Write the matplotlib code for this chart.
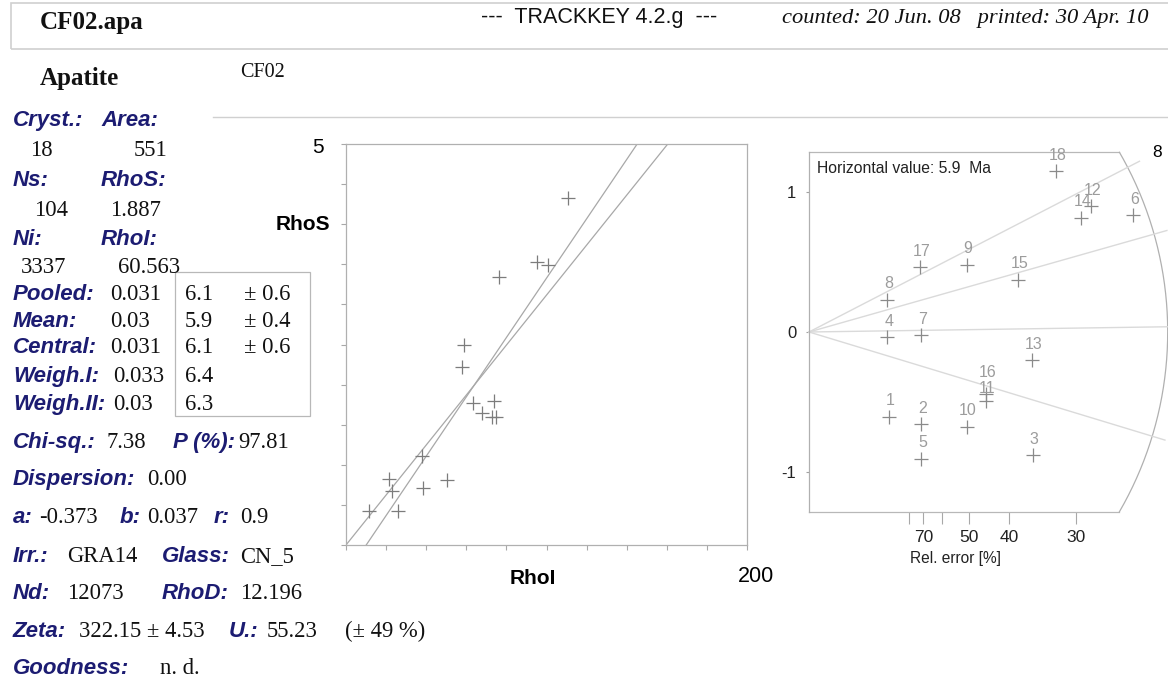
import numpy as np
import matplotlib.pyplot as plt
from matplotlib.patches import Rectangle
from matplotlib.lines import Line2D

# RhoS / RhoI per crystal
rho_i = [11.5, 21.3, 22.9, 26.1, 37.7, 38.4, 50.5, 58.0, 59.1, 63.5,
         67.9, 72.9, 73.9, 74.6, 76.2, 95.3, 100.5, 110.8]
rho_s = [0.42, 0.82, 0.67, 0.42, 1.11, 0.71, 0.81, 2.22, 2.50, 1.77,
         1.65, 1.60, 1.79, 1.60, 3.34, 3.53, 3.49, 4.33]

# regression a + b*x and pooled ratio line
reg_a = -0.373
reg_b = 0.037
pooled_ratio = 1.887 / 60.563

# radial plot: grain number, precision (1/rel. error), standardised estimate
grain = list(range(1, 19))
prec = [1.00, 1.40, 2.80, 0.98, 1.40, 4.05, 1.40, 0.98, 1.97, 1.97,
        2.21, 3.53, 2.79, 3.40, 2.61, 2.21, 1.39, 3.09]
zval = [-0.608, -0.661, -0.883, -0.036, -0.906, 0.835, -0.024, 0.232, 0.482, -0.68,
        -0.494, 0.902, -0.203, 0.819, 0.375, -0.446, 0.465, 1.152]
ages = [8, 7, 6, 5]
central_age = 5.95
err_ticks = [80, 70, 60, 50, 40, 30]
err_labels = ['', '70', '', '50', '40', '30']

W, H = 1168, 686
NAVY = '#1c1c72'
SANS = 'Liberation Sans'
SERIF = 'Liberation Serif'

fig = plt.figure(figsize=(W / 100, H / 100), dpi=100)


def fx(x):
    return x / W


def fy(y):
    return 1 - y / H


def lab(x, y, s, size=16):
    fig.text(fx(x), fy(y), s, color=NAVY, family=SANS, weight='bold',
             style='italic', fontsize=size, va='baseline')


def val(x, y, s, size=16.3, **kw):
    fig.text(fx(x), fy(y), s, color='#111111', family=SERIF, fontsize=size,
             va='baseline', **kw)


# header
fig.add_artist(Rectangle((fx(11), fy(49)), fx(1200) - fx(11), (49 - 3.5) / H,
                         fill=False, edgecolor='#d0d0d0', lw=1.2, clip_on=False))
val(40, 29, 'CF02.apa', size=18, weight='bold')
fig.text(fx(481), fy(23.5), '---  TRACKKEY 4.2.g  ---', family=SANS, fontsize=15.5,
         color='#111111', va='baseline')
val(782, 23.5, 'counted: 20 Jun. 08   printed: 30 Apr. 10', size=16.2, style='italic')

val(40, 85, 'Apatite', size=18, weight='bold')
val(240, 77, 'CF02', size=14.5)
fig.add_artist(Line2D([fx(213), 1], [fy(116.7), fy(116.7)], color='#d0d0d0', lw=1))

# left info panel
lab(13, 126, 'Cryst.:')
lab(101, 126, 'Area:')
val(30, 156, '18')
val(134, 156, '551')
lab(13, 186, 'Ns:')
lab(101, 186, 'RhoS:')
val(34, 215.7, '104')
val(110, 215.7, '1.887')
lab(13, 245, 'Ni:')
lab(101, 245, 'RhoI:')
val(21, 273.3, '3337')
val(118, 273.3, '60.563')

stat_names = ['Pooled:', 'Mean:', 'Central:', 'Weigh.I:', 'Weigh.II:']
stat_ratio = ['0.031', '0.03', '0.031', '0.033', '0.03']
stat_age = ['6.1', '5.9', '6.1', '6.4', '6.3']
stat_err = ['± 0.6', '± 0.4', '± 0.6', '', '']
stat_y = [300, 326.7, 352.7, 381.7, 410]
for i in range(5):
    lab(13, stat_y[i], stat_names[i])
    val(110 if i < 3 else 113, stat_y[i], stat_ratio[i])
    val(185, stat_y[i], stat_age[i])
    val(244, stat_y[i], stat_err[i])
fig.add_artist(Rectangle((fx(175), fy(415.7)), (310 - 175) / W, (415.7 - 272.3) / H,
                         fill=False, edgecolor='#b8b8b8', lw=0.9))

lab(13, 448.3, 'Chi-sq.:')
val(106.7, 448.3, '7.38')
lab(173.3, 448.3, 'P (%):')
val(238.3, 448.3, '97.81')
lab(13, 485, 'Dispersion:')
val(146.7, 485, '0.00')
lab(13, 523.3, 'a:')
val(39.3, 523.3, '-0.373')
lab(120, 523.3, 'b:')
val(146.7, 523.3, '0.037')
lab(213.3, 523.3, 'r:')
val(240, 523.3, '0.9')
lab(13, 561.7, 'Irr.:')
val(66.7, 561.7, 'GRA14')
lab(161.7, 561.7, 'Glass:')
val(240, 561.7, 'CN_5')
lab(13, 599.3, 'Nd:')
val(66.7, 599.3, '12073')
lab(161.7, 599.3, 'RhoD:')
val(240, 599.3, '12.196')
lab(13, 636.7, 'Zeta:')
val(79.3, 636.7, '322.15 ± 4.53')
lab(228.3, 636.7, 'U.:')
val(266.7, 636.7, '55.23')
val(345, 636.7, '(± 49 %)')
lab(13, 674, 'Goodness:')
val(160, 674, 'n. d.')

# RhoS vs RhoI plot
ax1 = fig.add_axes([fx(346), fy(545), 401 / W, 401 / H])
ax1.set_xlim(0, 200)
ax1.set_ylim(0, 5)
ax1.set_xticks(np.arange(0, 201, 20))
ax1.set_yticks(np.arange(0, 5.01, 0.5))
ax1.tick_params(direction='out', length=3.6, width=0.8, color='#a8a8a8',
                labelbottom=False, labelleft=False)
for sp in ax1.spines.values():
    sp.set_color('#b0b0b0')
    sp.set_linewidth(0.9)
xs = np.array([0, 200])
ax1.plot(xs, reg_a + reg_b * xs, color='#a8a8a8', lw=0.9)
ax1.plot(xs, pooled_ratio * xs, color='#a8a8a8', lw=0.9)
ax1.plot(rho_i, rho_s, '+', color='#7c7c7c', ms=10, mew=0.9)

fig.text(fx(323.5), fy(153.3), '5', family=SANS, fontsize=15, ha='right', va='baseline')
fig.text(fx(330), fy(230), 'RhoS', family=SANS, fontsize=15, weight='bold', ha='right',
         va='baseline')
fig.text(fx(533), fy(584), 'RhoI', family=SANS, fontsize=15, weight='bold', ha='center',
         va='baseline')
fig.text(fx(738), fy(582), '200', family=SANS, fontsize=15.5, va='baseline')

# radial plot
x0, x1, ytop_px, ybot_px = 809, 1168, 152.3, 511.7
sx = 80.0
sy = (ybot_px - ytop_px) / 2 / 1.287
ax2 = fig.add_axes([fx(x0), fy(ybot_px), (x1 - x0) / W, (ybot_px - ytop_px) / H])
ax2.set_xlim(0, (x1 - x0) / sx)
ax2.set_ylim(-1.287, 1.287)
ax2.patch.set_visible(False)
for k in ['top', 'right', 'bottom']:
    ax2.spines[k].set_visible(False)
ax2.spines['left'].set_color('#b0b0b0')
ax2.spines['left'].set_linewidth(0.9)

R = 358.7
th0 = np.arcsin(1.287 * sy / R)
xe = R * np.cos(th0) / sx
ax2.plot([0, xe], [1.287, 1.287], color='#b8b8b8', lw=0.9, clip_on=False)
ax2.plot([0, xe], [-1.287, -1.287], color='#b8b8b8', lw=0.9, clip_on=False)
th = np.linspace(-th0, th0, 200)
ax2.plot(R * np.cos(th) / sx, R * np.sin(th) / sy, color='#b0b0b0', lw=0.9, clip_on=False)

z0 = np.log(central_age)
for t in ages:
    ang = np.arctan((np.log(t) - z0) * sy / sx)
    ax2.plot([0, 372 * np.cos(ang) / sx], [0, 372 * np.sin(ang) / sy],
             color='#dadada', lw=1, clip_on=False)
    if x0 + 392 * np.cos(ang) < x1 - 6:
        ax2.text(392 * np.cos(ang) / sx, 392 * np.sin(ang) / sy, str(t), family=SANS,
                 fontsize=12.5, ha='center', va='center', clip_on=False)

ax2.set_yticks([-1, 0, 1])
ax2.set_yticklabels(['-1', '0', '1'])
ax2.set_xticks([100 / p for p in err_ticks])
ax2.set_xticklabels(err_labels)
ax2.tick_params(axis='y', length=2.5, width=0.8, color='#a0a0a0', pad=6.5, labelsize=12)
ax2.tick_params(axis='x', length=8.4, width=0.8, color='#a8a8a8', pad=4.5, labelsize=12.5)
for tl in ax2.get_xticklabels() + ax2.get_yticklabels():
    tl.set_family(SANS)
    tl.set_color('#222222')

ax2.plot(prec, zval, '+', color='#8a8a8a', ms=9.5, mew=0.9, clip_on=False)
for g, x, y in zip(grain, prec, zval):
    dy = {16: 15.5, 11: 9}.get(g, 11.5)
    ax2.annotate(str(g), (x, y), xytext=(1, dy), textcoords='offset points',
                 ha='center', va='center', fontsize=11.5, color='#9c9c9c', family=SANS)

fig.text(fx(817), fy(172.7), 'Horizontal value: 5.9  Ma', family=SANS, fontsize=11.3,
         color='#222222', va='baseline')
fig.text(fx(955), fy(563), 'Rel. error [%]', family=SANS, fontsize=11.2, color='#222222',
         ha='center', va='baseline')

fig.savefig('out.png', dpi=100)
